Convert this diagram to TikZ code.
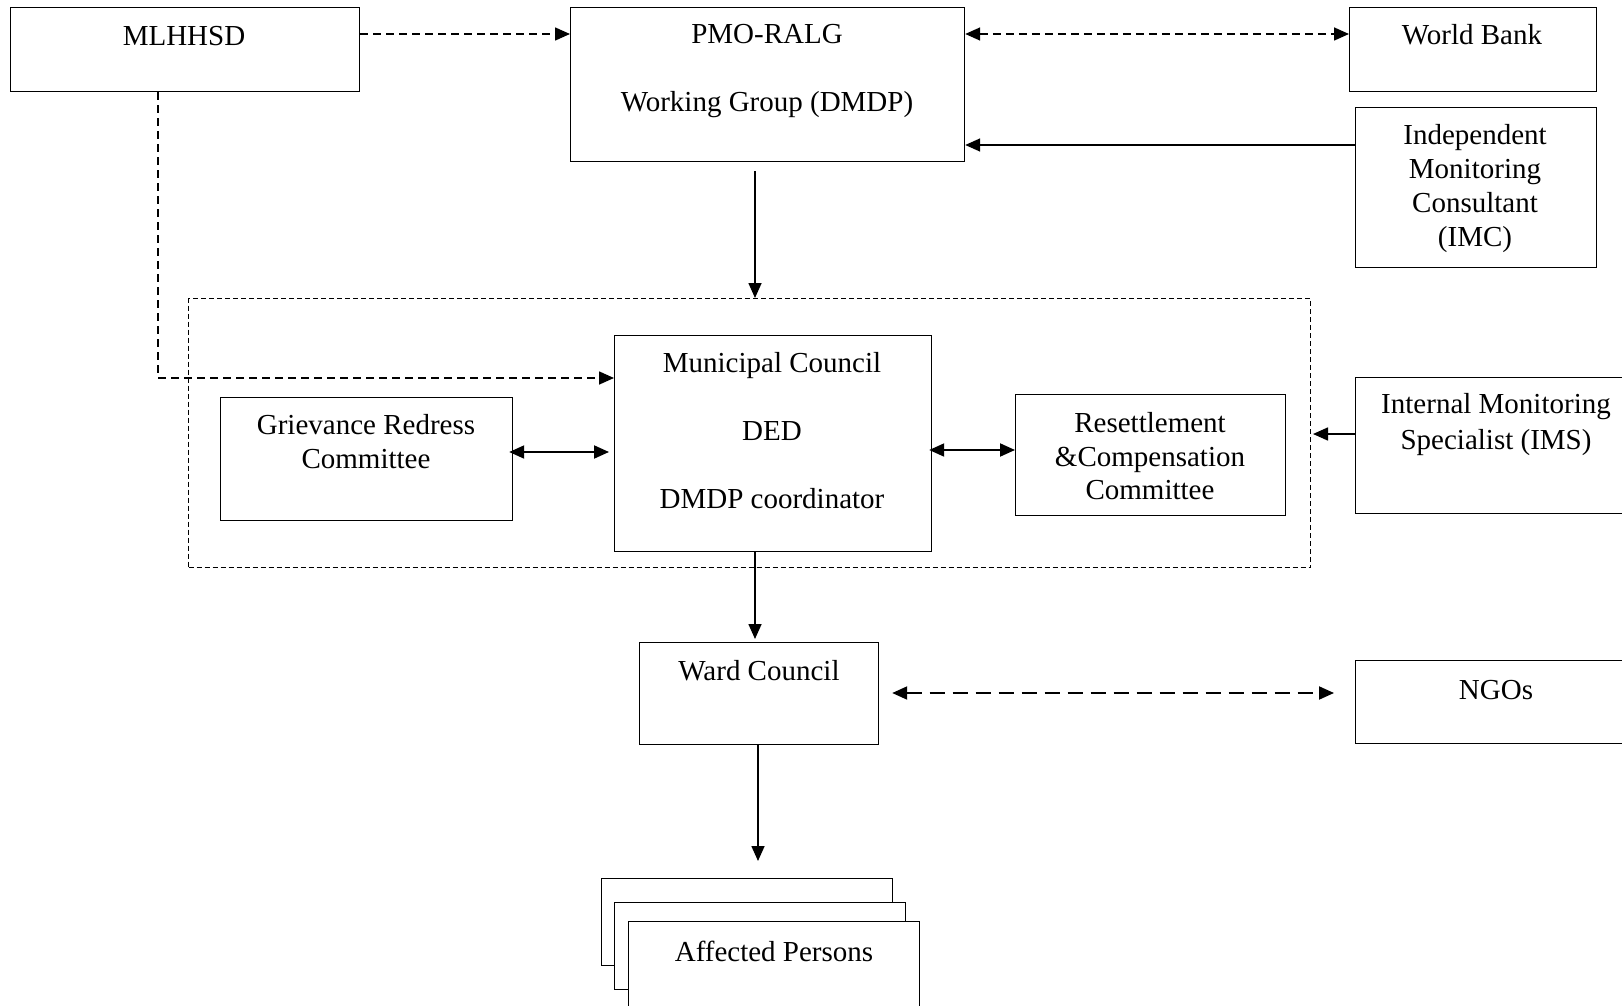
\documentclass[tikz,border=0pt]{standalone}
\usepackage{fontspec}
\setmainfont{Liberation Serif}
\usetikzlibrary{arrows.meta}
\begin{document}
\begin{tikzpicture}[x=1pt,y=-1pt,
  box/.style={draw,line width=1.2pt,fill=white,inner sep=0pt,anchor=north west},
  txt/.style={inner sep=0pt,anchor=base,font=\fontsize{29}{34}\selectfont},
  tip/.style={-{Triangle[length=15pt,width=13pt]}},
  tips/.style={{Triangle[length=15pt,width=13pt]}-{Triangle[length=15pt,width=13pt]}},
  arr/.style={line width=1.6pt,tip},
  barr/.style={line width=2pt,tips},
  darr/.style={line width=1.6pt,dash pattern=on 8pt off 5pt,tip},
  dbarr/.style={line width=1.6pt,dash pattern=on 8pt off 5pt,tips},
  lbarr/.style={line width=2pt,dash pattern=on 15pt off 8pt,tips}]
\clip (0,0) rectangle (1622,1006);
\fill[white] (0,0) rectangle (1622,1006);
% container
\node[draw,line width=1pt,dash pattern=on 5pt off 3pt,inner sep=0pt,anchor=north west,minimum width=1122pt,minimum height=269pt] (cont) at (188,298) {};
% boxes
\node[box,minimum width=349pt,minimum height=84pt] (mlh) at (10,7) {};
\node[box,minimum width=394pt,minimum height=154pt] (pmo) at (570,7) {};
\node[box,minimum width=247pt,minimum height=84pt] (wb) at (1349,7) {};
\node[box,minimum width=241pt,minimum height=160pt] (imc) at (1355,107) {};
\node[box,minimum width=317pt,minimum height=216pt] (mc) at (614,335) {};
\node[box,minimum width=292pt,minimum height=123pt] (grc) at (220,397) {};
\node[box,minimum width=270pt,minimum height=121pt] (rcc) at (1015,394) {};
\node[box,minimum width=300pt,minimum height=136pt] (ims) at (1355,377) {};
\node[box,minimum width=239pt,minimum height=102pt] (ward) at (639,642) {};
\node[box,minimum width=300pt,minimum height=83pt] (ngo) at (1355,660) {};
\node[box,minimum width=291pt,minimum height=87pt] (apb) at (601,878) {};
\node[box,minimum width=291pt,minimum height=87pt] (apm) at (614,902) {};
\node[box,minimum width=291pt,minimum height=110pt] (apf) at (628,921) {};
% texts
\node[txt] (t1) at (184,46) {MLHHSD};
\node[txt] (t2) at (767,44) {PMO-RALG};
\node[txt] (t3) at (767,112) {Working Group (DMDP)};
\node[txt] (t4) at (1472,45) {World Bank};
\node[txt] (t5) at (1475,144) {Independent};
\node[txt] (t6) at (1475,178) {Monitoring};
\node[txt] (t7) at (1475,212) {Consultant};
\node[txt] (t8) at (1475,246) {(IMC)};
\node[txt] (t9) at (772,372) {Municipal Council};
\node[txt] (t10) at (772,440) {DED};
\node[txt] (t11) at (772,508) {DMDP coordinator};
\node[txt] (t12) at (366,434) {Grievance Redress};
\node[txt] (t13) at (366,468) {Committee};
\node[txt] (t14) at (1150,432) {Resettlement};
\node[txt] (t15) at (1150,466) {\&Compensation};
\node[txt] (t16) at (1150,499) {Committee};
\node[txt] (t17) at (1496,413) {Internal Monitoring};
\node[txt] (t18) at (1496,449) {Specialist (IMS)};
\node[txt] (t19) at (759,680) {Ward Council};
\node[txt] (t20) at (1496,699) {NGOs};
\node[txt] (t21) at (774,961) {Affected Persons};
% connectors
\draw[darr] (mlh.east |- 0,34) -- (pmo.west |- 0,34);
\draw[dbarr] (pmo.east |- 0,34) -- (wb.west |- 0,34);
\draw[arr] (imc.west |- 0,145) -- (pmo.east |- 0,145);
\draw[arr,shorten <=9pt] (pmo.south -| 755,0) -- (cont.north -| 755,0);
\draw[darr] (mlh.south -| 158,0) |- (mc.west |- 0,378);
\draw[barr,shorten <=-4pt,shorten >=5pt] (grc.east |- 0,452) -- (mc.west |- 0,452);
\draw[barr,shorten <=-3pt] (mc.east |- 0,450) -- (rcc.west |- 0,450);
\draw[arr,shorten >=2pt] (ims.west |- 0,434) -- (cont.east |- 0,434);
\draw[arr,shorten >=3pt] (mc.south -| 755,0) -- (ward.north -| 755,0);
\draw[lbarr,shorten <=13pt,shorten >=21pt] (ward.east |- 0,693) -- (ngo.west |- 0,693);
\draw[arr,shorten >=17pt] (ward.south -| 758,0) -- (apb.north -| 758,0);
\end{tikzpicture}
\end{document}
